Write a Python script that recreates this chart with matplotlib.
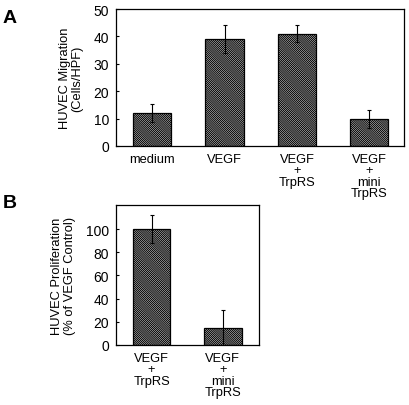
import matplotlib
matplotlib.use('Agg')
import matplotlib.pyplot as plt

plt.rcParams['font.family'] = ['Liberation Sans', 'DejaVu Sans']
plt.rcParams['hatch.linewidth'] = 0.75
plt.rcParams['hatch.color'] = '#222222'

# Panel A: migration
cats_a = ['medium', 'VEGF', 'VEGF\n+\nTrpRS', 'VEGF\n+\nmini\nTrpRS']
vals_a = [12, 39, 41, 10]
errs_a = [3.3, 5.2, 3.2, 3.3]

# Panel B: proliferation
cats_b = ['VEGF\n+\nTrpRS', 'VEGF\n+\nmini\nTrpRS']
vals_b = [100, 15]
errs_b = [12, 15]

fig = plt.figure(figsize=(4.10, 4.06), dpi=100)
W, H = 410, 406


def add_ax(x0, y0, x1, y1):
    return fig.add_axes([x0 / W, 1 - y1 / H, (x1 - x0) / W, (y1 - y0) / H])


def draw_bars(ax, cats, vals, errs):
    x = range(len(cats))
    ax.bar(x, vals, width=0.53, color='white', edgecolor='black',
           hatch='\\' * 16, linewidth=0.9, zorder=2)
    ax.errorbar(x, vals, yerr=errs, fmt='none', ecolor='black',
                elinewidth=0.8, capsize=1.5, capthick=0.8, zorder=3)
    ax.set_xticks(list(x))
    ax.set_xticklabels(cats, fontsize=9.3, linespacing=0.92, va='top')
    ax.tick_params(axis='y', direction='in', length=2, labelsize=10, pad=5)
    ax.tick_params(axis='x', length=0, pad=5)
    for s in ax.spines.values():
        s.set_linewidth(0.9)


ax_a = add_ax(116, 10, 404, 147)
draw_bars(ax_a, cats_a, vals_a, errs_a)
ax_a.set_xlim(-0.5, 3.48)
ax_a.set_ylim(0, 50)
ax_a.set_yticks([0, 10, 20, 30, 40, 50])
ax_a.set_ylabel('HUVEC Migration\n(Cells/HPF)', fontsize=9.3, linespacing=1.1, labelpad=7)

ax_b = add_ax(116, 206, 259, 346)
draw_bars(ax_b, cats_b, vals_b, errs_b)
ax_b.set_xlim(-0.5, 1.51)
ax_b.set_ylim(0, 120.7)
ax_b.set_yticks([0, 20, 40, 60, 80, 100])
ax_b.set_ylabel('HUVEC Proliferation\n(% of VEGF Control)', fontsize=9.3, linespacing=1.1, labelpad=7)

fig.text(3 / W, 1 - 23 / H, 'A', fontsize=14, fontweight='bold')
fig.text(3 / W, 1 - 208 / H, 'B', fontsize=14, fontweight='bold')

fig.savefig('out.png', dpi=100)
